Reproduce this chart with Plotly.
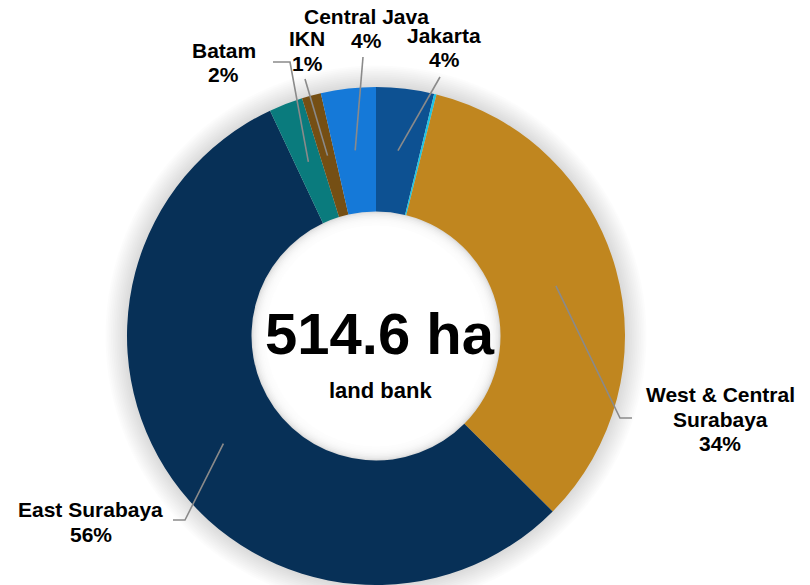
import math
import plotly.graph_objects as go

# Land bank by region (hectares), in clockwise order from 12 o'clock
regions = ["Jakarta", "Other", "West & Central<br>Surabaya", "East Surabaya",
           "Batam", "IKN", "Central Java"]
hectares = [19.3, 0.8, 172.6, 285.9, 11.3, 6.4, 18.3]
colors = ["#0D5192", "#1EC3E3", "#C0861F", "#073057", "#0A7B7D", "#754F14", "#1579D8"]
labelled = ["Jakarta", "West & Central<br>Surabaya", "East Surabaya",
            "Batam", "IKN", "Central Java"]
caption = "land bank"

W, H = 810, 585
DOM_X = [126 / W, 626 / W]
DOM_Y = [0.0, 498 / H]
HOLE = 0.5

# pie geometry in pixels (plotly centres the pie in its domain, r = min(w, h) / 2)
dom_w = (DOM_X[1] - DOM_X[0]) * W
dom_h = (DOM_Y[1] - DOM_Y[0]) * H
R = min(dom_w, dom_h) / 2
CX = (DOM_X[0] + DOM_X[1]) / 2 * W
CY = H - (DOM_Y[0] + DOM_Y[1]) / 2 * H


def px(x, y):
    return x / W, 1 - y / H


# label placement: text centre x, first-line y, line end / elbow points (pixels)
label_layout = {
    "Jakarta": dict(x=444, y=35.5, path=[(440, 77)]),
    "Central Java": dict(x=366, y=16.5, path=[(363, 57)]),
    "IKN": dict(x=307, y=38.5, path=[(305, 79)]),
    "Batam": dict(x=224, y=50, path=[(290, 62), (273, 62)]),
    "West & Central<br>Surabaya": dict(x=720, y=394.5, path=[(620, 418), (632, 418)]),
    "East Surabaya": dict(x=90.5, y=509.5, path=[(185, 520), (173, 520)]),
}
LINE_STEP = 24.5
FONT = "Liberation Sans, Arial, sans-serif"

total = sum(hectares)

fig = go.Figure(go.Pie(
    labels=regions,
    values=hectares,
    marker=dict(colors=colors, line=dict(width=0)),
    hole=HOLE,
    sort=False,
    direction="clockwise",
    rotation=0,
    textinfo="none",
    hoverinfo="label+value+percent",
    domain=dict(x=DOM_X, y=DOM_Y),
    showlegend=False,
))

shapes = []
cxp, cyp = px(CX, CY)


def disc(radius, color, opacity):
    return dict(type="circle", layer="below", xref="paper", yref="paper",
                xsizemode="pixel", ysizemode="pixel", xanchor=cxp, yanchor=cyp,
                x0=-radius, x1=radius, y0=-radius, y1=radius,
                fillcolor=color, opacity=opacity, line=dict(width=0))


# soft drop shadow around the ring and inside the hole
for k in range(12, 0, -1):
    shapes.append(disc(R + 1.8 * k, "black", 0.011))
r_in = R * HOLE
for k in range(8):
    shapes.append(disc(r_in - 1 - 1.5 * k, "white", 0.3))
shapes.append(disc(r_in - 14, "white", 1.0))

annotations = []
cum = 0.0
for name, v in zip(regions, hectares):
    mid = (cum + v / 2) / total * 2 * math.pi
    cum += v
    if name not in labelled:
        continue
    lay = label_layout[name]
    # leader line from inside the slice to the label
    sx = CX + 0.75 * R * math.sin(mid)
    sy = CY - 0.75 * R * math.cos(mid)
    pts = [(sx, sy)] + lay["path"]
    d = "M " + " L ".join(f"{px(x, y)[0]:.5f},{px(x, y)[1]:.5f}" for x, y in pts)
    shapes.append(dict(type="path", xref="paper", yref="paper", path=d,
                       line=dict(color="#8A8A8A", width=1.6), layer="above"))
    pct = round(v / total * 100)
    lines = name.split("<br>") + [f"{pct}%"]
    for i, t in enumerate(lines):
        x, y = px(lay["x"], lay["y"] + i * LINE_STEP)
        annotations.append(dict(x=x, y=y, xref="paper", yref="paper", text=f"<b>{t}</b>",
                                showarrow=False, xanchor="center", yanchor="middle",
                                font=dict(family=FONT, size=21, color="black")))

# centre text
x, y = px(CX + 4, 333.5)
annotations.append(dict(x=x, y=y, xref="paper", yref="paper", text=f"<b>{total:.1f} ha</b>",
                        showarrow=False, xanchor="center", yanchor="middle",
                        font=dict(family=FONT, size=58, color="black")))
x, y = px(CX + 4, 390)
annotations.append(dict(x=x, y=y, xref="paper", yref="paper", text=f"<b>{caption}</b>",
                        showarrow=False, xanchor="center", yanchor="middle",
                        font=dict(family=FONT, size=22, color="black")))

fig.update_layout(
    width=W, height=H,
    margin=dict(l=0, r=0, t=0, b=0),
    paper_bgcolor="white",
    plot_bgcolor="white",
    shapes=shapes,
    annotations=annotations,
)

fig.write_html("out.html")
